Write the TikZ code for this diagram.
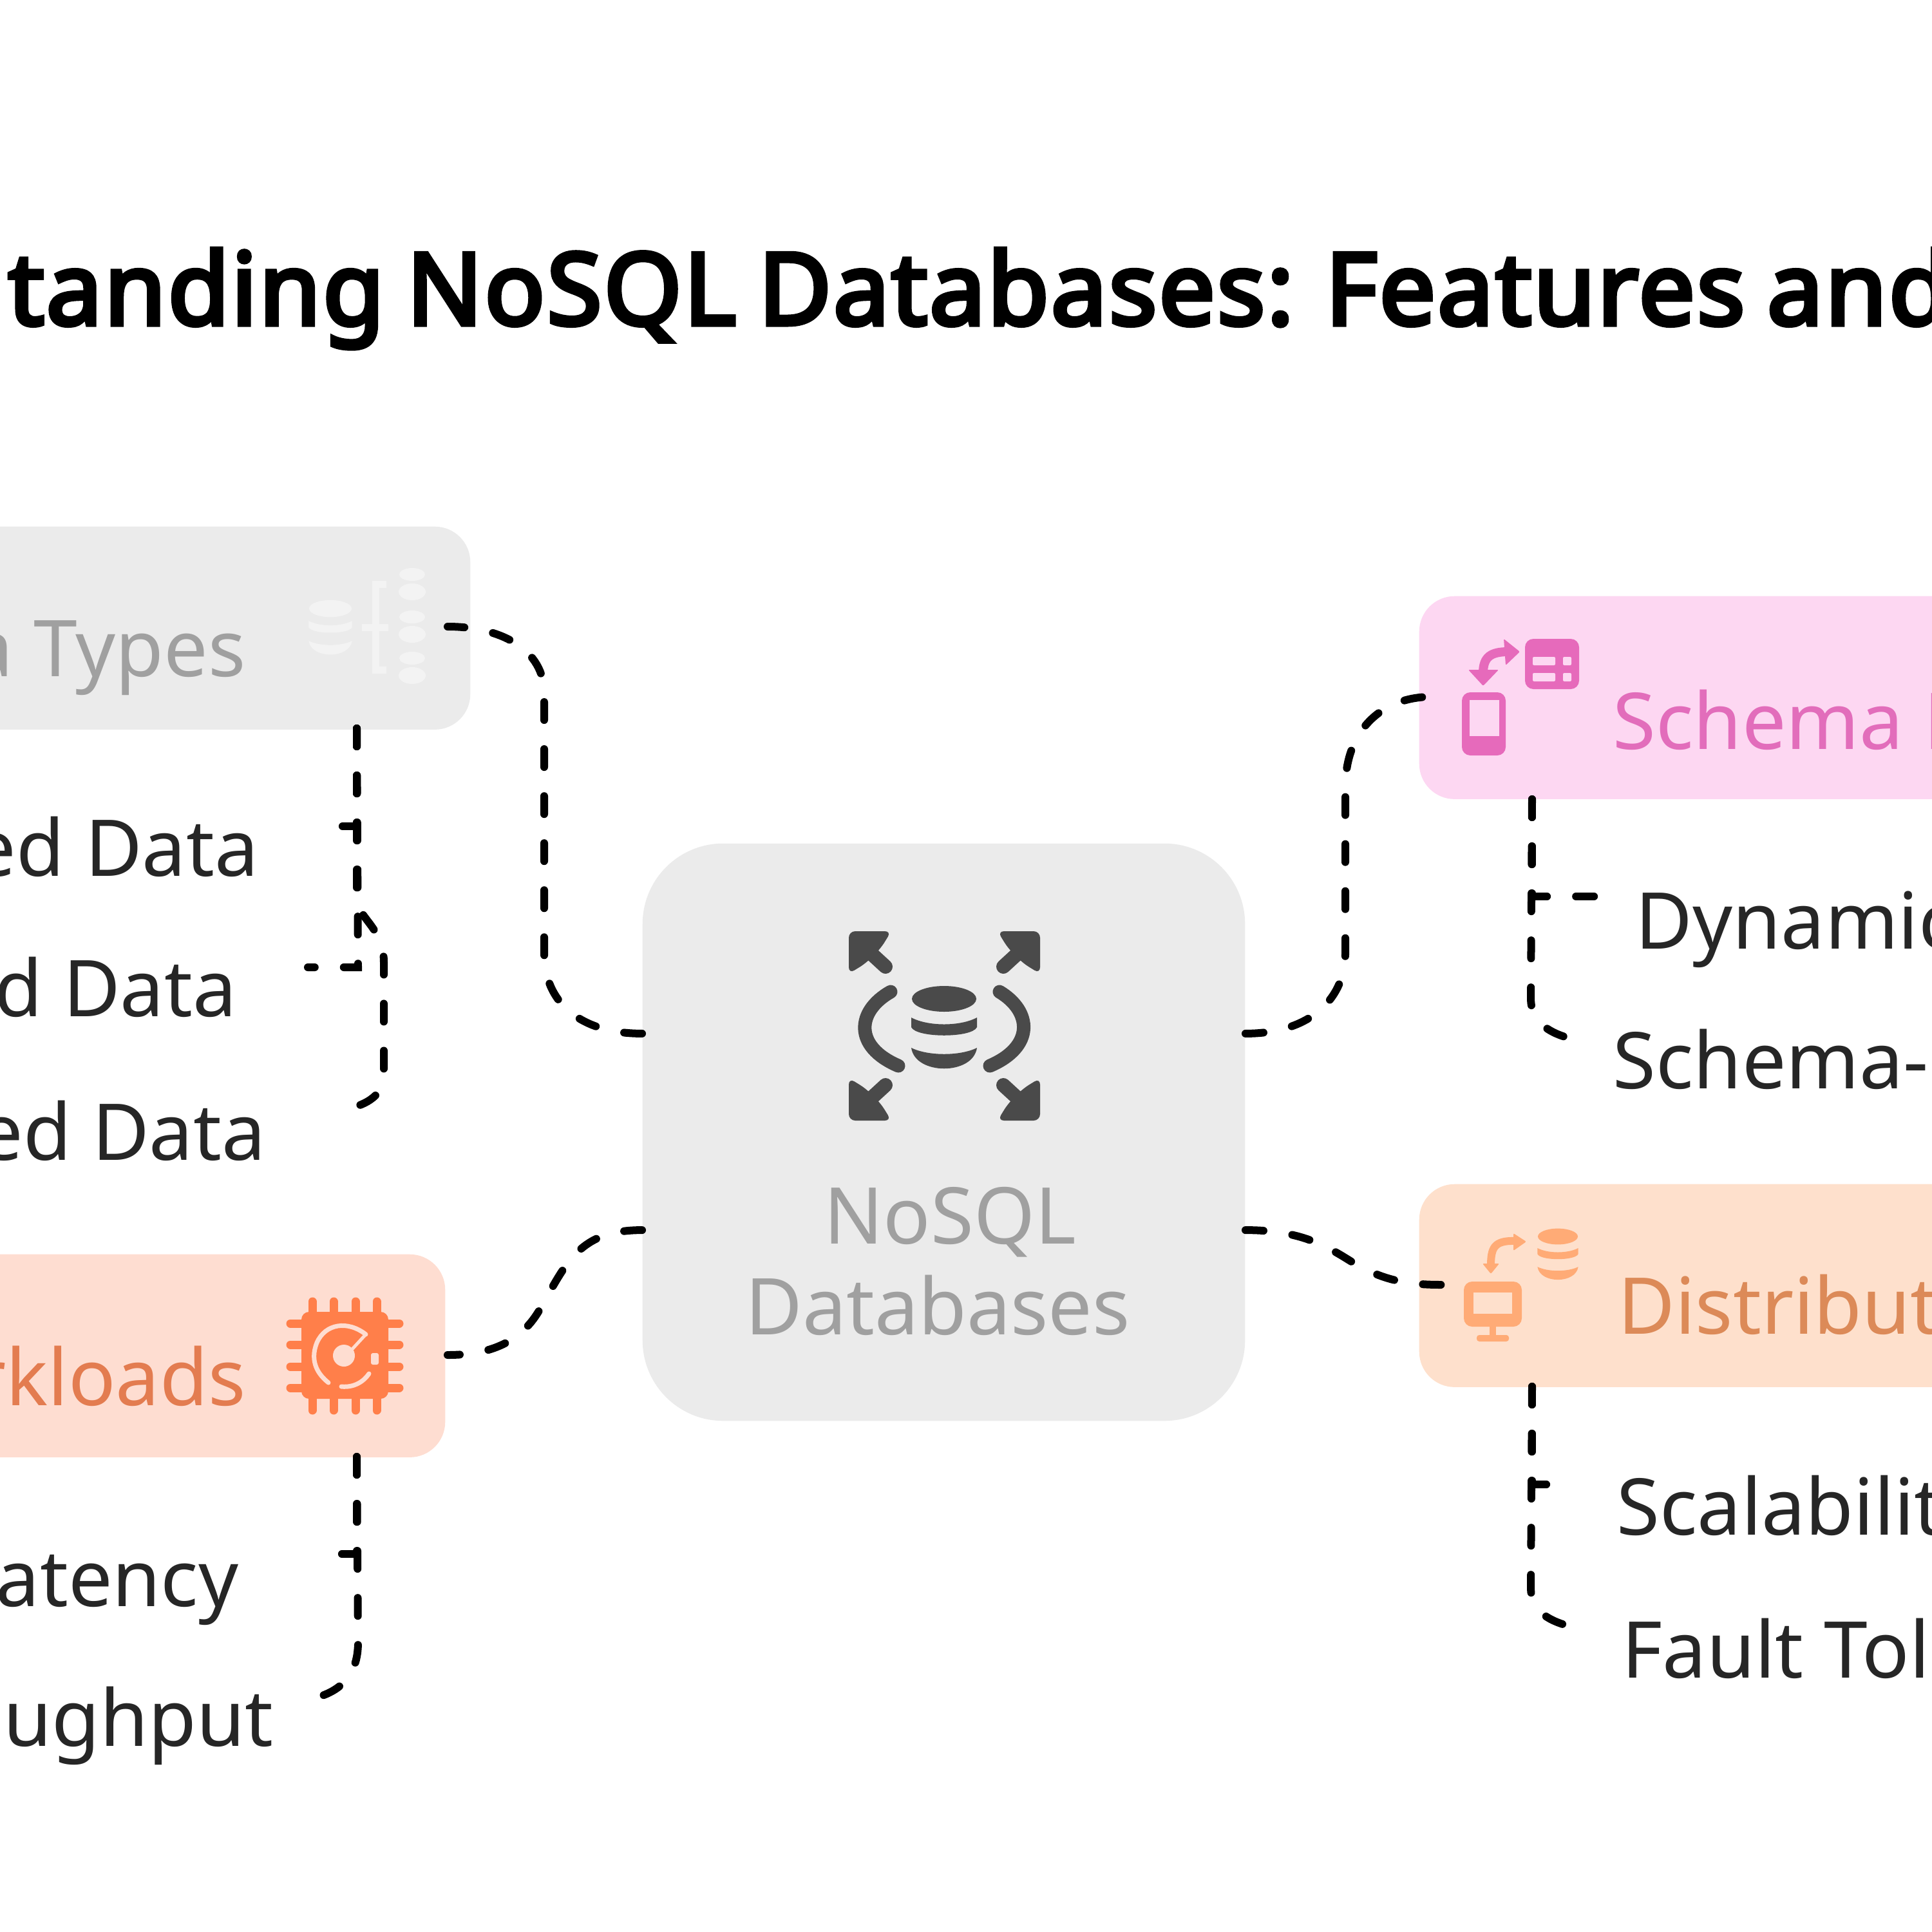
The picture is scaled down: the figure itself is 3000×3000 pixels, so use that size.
\documentclass[tikz,border=0pt]{standalone}
\usepackage{fontspec}
\setmainfont{Noto Sans}
\newfontface\titlefont{Noto Sans}[FakeBold=4.5, LetterSpace=2, WordSpace=.8]
\definecolor{rootfill}{HTML}{EBEBEB}
\definecolor{rootink}{HTML}{A0A0A0}
\definecolor{rooticon}{HTML}{4A4A4A}
\definecolor{datahint}{HTML}{F3F3F3}
\definecolor{schemafill}{HTML}{FDD7F2}
\definecolor{schemaink}{HTML}{E26DBB}
\definecolor{schemaicon}{HTML}{E66ABB}
\definecolor{distfill}{HTML}{FEE0CC}
\definecolor{distink}{HTML}{DC8A58}
\definecolor{disticon}{HTML}{FFAB76}
\definecolor{workfill}{HTML}{FEDDD1}
\definecolor{workink}{HTML}{E37C50}
\definecolor{workicon}{HTML}{FF7F4A}
\tikzset{
    rootbox/.style={fill=rootfill, rectangle, rounded corners=1.25cm, inner sep=0mm,
    minimum width=9.35cm, minimum height=8.96cm
  },
  topicbox/.style={
    rectangle, rounded corners=.55cm, inner sep=0mm, minimum height=3.15cm, minimum width=12.3cm
  },
  topictext/.style={
    inner sep=0mm, font=\fontsize{34.6}{40}\selectfont
  },
  leaftext/.style={
    inner sep=0mm, text=black!85, font=\fontsize{34.6}{40}\selectfont
  },
  link/.style={
    draw=black, line width=1.2mm, line cap=round, dash pattern=on .28cm off .45cm
  },
  cornerarrow/.pic={
    \path[pic actions, rounded corners=.1cm] (-2,-2) -- (64,-2) -- (48,24) -- (24,48) -- (-2,64) -- cycle;
    \draw[rooticon, line width=.22cm, line cap=round] (30,30) -- (55,53);
  },
  dbstack/.pic={
    \path[pic actions] (0,0) ellipse [x radius=50, y radius=20];
    \path[pic actions] (-51,29) .. controls (-25,43) and (25,43) .. (51,29) -- (51,44) .. controls (43,61) and (-43,61) .. (-51,44) -- cycle;
    \path[pic actions] (-51,76) .. controls (-25,89) and (25,89) .. (51,76) .. controls (45,119) and (-45,119) .. (-51,76) -- cycle;
  }
}
\begin{document}
\begin{tikzpicture}[x=.01cm, y=-.01cm]
 \useasboundingbox (0,0) rectangle (3000,3000);

 \node[anchor=base west, inner sep=0mm, text=black, font=\titlefont\fontsize{44.1}{50}\selectfont] (title) at (12,504) {tanding NoSQL Databases: Features and};

 \node[rootbox] (central) at (1465.5,1758) {};
 \node[topicbox, fill=rootfill, anchor=north east] (datatypes) at (731,817) {};
 \node[topicbox, fill=workfill, anchor=north east] (workloads) at (692,1947) {};
 \node[topicbox, fill=schemafill, anchor=north west] (schema) at (2203,925) {};
 \node[topicbox, fill=distfill, anchor=north west] (distributed) at (2203,1838) {};

 \node[anchor=base, inner sep=0mm, align=center, text=rootink, font=\fontsize{34.6}{40}\selectfont] (rootlabel) at (1456,2072) {\hspace{.38cm}NoSQL\\Databases};
 \node[topictext, anchor=base east, text=rootink] (datalabel) at (382,1050) {a Types};
 \node[topictext, anchor=base east, text=workink] (worklabel) at (382,2182) {rkloads};
 \node[topictext, anchor=base west, text=schemaink] (schemalabel) at (2504,1163) {Schema F};
 \node[topictext, anchor=base west, text=distink] (distlabel) at (2512,2071) {Distribut};

 \node[leaftext, anchor=base east] (dataleafa) at (402,1360) {ed Data};
 \node[leaftext, anchor=base east] (dataleafb) at (368,1578) {d Data};
 \node[leaftext, anchor=base east] (dataleafc) at (413,1801) {ed Data};
 \node[leaftext, anchor=base east] (workleafa) at (371,2494) {atency};
 \node[leaftext, anchor=base east] (workleafb) at (425,2711) {ughput};
 \node[leaftext, anchor=base west] (schemaleafa) at (2539,1473) {Dynamic};
 \node[leaftext, anchor=base west] (schemaleafb) at (2504,1690) {Schema-};
 \node[leaftext, anchor=base west] (distleafa) at (2510,2383) {Scalabilit};
 \node[leaftext, anchor=base west] (distleafb) at (2518,2605) {Fault Tol};

 % root icon
 \pic[fill=rooticon] at (1320,1448) {cornerarrow};
 \pic[fill=rooticon, xscale=-1] at (1613,1448) {cornerarrow};
 \pic[fill=rooticon, yscale=-1] at (1320,1738) {cornerarrow};
 \pic[fill=rooticon, xscale=-1, yscale=-1] at (1613,1738) {cornerarrow};
 \pic[fill=rooticon] at (1466,1551) {dbstack};
 \draw[rooticon, line width=.21cm, line cap=round] (1383,1540) .. controls (1330,1570) and (1325,1625) .. (1395,1655);
 \draw[rooticon, line width=.21cm, line cap=round] (1552,1540) .. controls (1602,1570) and (1607,1625) .. (1537,1655);

 % data types icon
 \pic[fill=datahint, scale=.66] at (513,945) {dbstack};
 \draw[datahint, line width=.11cm] (600,907) -- (583,907) -- (583,1040) -- (600,1040);
 \draw[datahint, line width=.11cm] (562,974) -- (603,974);
 \foreach \y in {892,958,1022} {
   \fill[datahint] (640,\y) ellipse [x radius=20, y radius=10];
   \fill[datahint] (640,\y+27) ellipse [x radius=21, y radius=13];
  }

 % workloads icon
 \fill[workicon, rounded corners=.12cm] (468,2037) rectangle (603,2172);
 \foreach \p in {485,518,552,585} {
   \draw[workicon, line width=.13cm, line cap=round] (\p,2021) -- (\p,2190);
  }
 \foreach \p in {2055,2088,2122,2155} {
   \draw[workicon, line width=.13cm, line cap=round] (451,\p) -- (620,\p);
  }
 \draw[workfill, line width=.07cm, line cap=round] (568,2072) .. controls (540,2050) and (505,2055) .. (492,2085) .. controls (480,2115) and (495,2135) .. (510,2147);
 \draw[workfill, line width=.07cm, line cap=round] (530,2153) .. controls (550,2155) and (565,2145) .. (573,2133);
 \draw[workfill, line width=.05cm, line cap=round] (568,2072) -- (545,2097);
 \fill[workfill] (534,2105) circle [radius=17];
 \fill[workfill, rounded corners=.03cm] (576,2101) rectangle (588,2119);

 % schema icon
 \fill[schemaicon, rounded corners=.13cm] (2368,992) rectangle (2452,1070);
 \fill[schemafill, rounded corners=.02cm] (2380,1020) rectangle (2415,1033) (2427,1020) rectangle (2440,1033) (2380,1045) rectangle (2415,1058) (2427,1045) rectangle (2440,1058);
 \fill[schemaicon, rounded corners=.13cm] (2270,1075) rectangle (2338,1173);
 \fill[schemafill] (2282,1087) rectangle (2328,1143);
 \fill[schemaicon, rounded corners=.02cm] (2280,1040) -- (2327,1040) -- (2303,1065) -- cycle;
 \fill[schemaicon, rounded corners=.02cm] (2335,992) -- (2360,1012) -- (2338,1033) -- cycle;
 \draw[schemaicon, line width=.14cm] (2303,1045) .. controls (2303,1020) and (2315,1012) .. (2342,1012);

 % distributed icon
 \pic[fill=disticon, scale=.62] at (2419,1920) {dbstack};
 \fill[disticon, rounded corners=.13cm] (2273,1990) rectangle (2363,2060);
 \fill[distfill] (2288,2007) rectangle (2348,2040);
 \fill[disticon] (2313,2058) rectangle (2323,2076);
 \fill[disticon, rounded corners=.04cm] (2293,2073) rectangle (2343,2083);
 \fill[disticon, rounded corners=.02cm] (2302,1962) -- (2328,1962) -- (2315,1978) -- cycle;
 \fill[disticon, rounded corners=.02cm] (2350,1915) -- (2370,1928) -- (2350,1942) -- cycle;
 \draw[disticon, line width=.12cm] (2315,1965) .. controls (2315,1938) and (2320,1926) .. (2352,1927);

 \coordinate (datain) at (695,973);
 \coordinate (workin) at (695,2104);
 \coordinate (schemain) at (2222,1082);
 \coordinate (distin) at (2239,1995);
 \coordinate (datafoot) at (554,1131);
 \coordinate (workfoot) at (554,2262);
 \coordinate (schemafoot) at (2379,1241);
 \coordinate (distfoot) at (2379,2153);
 \coordinate (dataenda) at (529,1283);
 \coordinate (dataendb) at (478,1502);
 \coordinate (dataendc) at (539,1722);
 \coordinate (workenda) at (517,2413);
 \coordinate (workendb) at (491,2636);
 \coordinate (schemaenda) at (2491,1392);
 \coordinate (schemaendb) at (2440,1613);
 \coordinate (distenda) at (2415,2305);
 \coordinate (distendb) at (2440,2526);

 \draw[link] ([yshift=1.53cm]central.west) .. controls (905,1605) and (845,1560) .. (845,1480) -- (845,1076) .. controls (845,1010) and (780,973) .. (datain);
 \draw[link] ([yshift=-1.52cm]central.west) .. controls (900,1910) and (880,1960) .. (840,2030) .. controls (810,2085) and (760,2104) .. (workin);
 \draw[link] ([yshift=1.53cm]central.east) .. controls (2035,1605) and (2089,1550) .. (2089,1480) -- (2089,1223) .. controls (2089,1130) and (2150,1082) .. (schemain);
 \draw[link] ([yshift=-1.52cm]central.east) .. controls (2020,1910) and (2060,1935) .. (2100,1960) .. controls (2150,1990) and (2190,1995) .. (distin);

 \draw[link] (datafoot) -- (554,1283) -- (dataenda);
 \draw[link] (datafoot) -- (556,1502) -- (dataendb);
 \draw[link] (datafoot) -- (554,1395) .. controls (554,1425) and (596,1440) .. (596,1494) -- (596,1669) .. controls (596,1700) and (570,1715) .. (dataendc);
 \draw[link] (workfoot) -- (554,2413) -- (workenda);
 \draw[link] (workfoot) -- (556,2550) .. controls (556,2600) and (530,2625) .. (workendb);
 \draw[link] (schemafoot) -- (2379,1392) -- (schemaenda);
 \draw[link] (schemafoot) -- (2377,1550) .. controls (2377,1590) and (2410,1605) .. (schemaendb);
 \draw[link] (distfoot) -- (2379,2305) -- (distenda);
 \draw[link] (distfoot) -- (2377,2465) .. controls (2377,2505) and (2410,2518) .. (distendb);
\end{tikzpicture}
\end{document}
